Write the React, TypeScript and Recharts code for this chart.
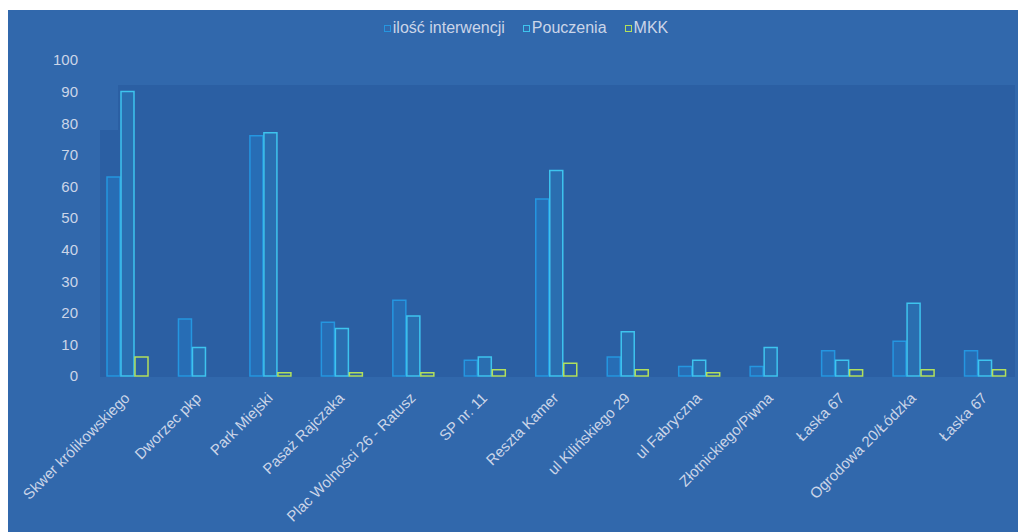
import React from 'react';
import { BarChart, Bar, XAxis, YAxis } from 'recharts';

const categories = [
  'Skwer królikowskiego',
  'Dworzec pkp',
  'Park Miejski',
  'Pasaż Rajczaka',
  'Plac Wolności 26 - Ratusz',
  'SP nr. 11',
  'Reszta Kamer',
  'ul Kilińskiego 29',
  'ul Fabryczna',
  'Złotnickiego/Piwna',
  'Łaska 67',
  'Ogrodowa 20/Łódzka',
  'Łaska 67 ',
];
const interwencje = [63, 18, 76, 17, 24, 5, 56, 6, 3, 3, 8, 11, 8];
const pouczenia = [90, 9, 77, 15, 19, 6, 65, 14, 5, 9, 5, 23, 5];
const mkk = [6, 0, 1, 1, 1, 2, 4, 2, 1, 0, 2, 2, 2];
const yTicks = [0, 10, 20, 30, 40, 50, 60, 70, 80, 90, 100];

const data = categories.map((name, i) => ({
  name,
  interwencje: interwencje[i],
  pouczenia: pouczenia[i],
  mkk: mkk[i],
}));

const TEXT = '#cbd5e8';
const FONT = '"Liberation Sans", Arial, sans-serif';

const legendItems = [
  { label: 'ilość interwencji', color: '#2596e0' },
  { label: 'Pouczenia', color: '#3ec4ee' },
  { label: 'MKK', color: '#b2e05c' },
];

const XTick = (props: any) => {
  const { x, y, payload } = props;
  return (
    <g transform={`translate(${x + 3},${y + 15})`}>
      <text textAnchor="end" fill={TEXT} fontSize={15} fontFamily={FONT} transform="rotate(-45)">
        {payload.value}
      </text>
    </g>
  );
};

export default function App() {
  return (
    <div style={{ position: 'relative', width: 1018, height: 522, marginTop: 2, background: '#3168ac' }}>
      <div style={{ position: 'absolute', left: 110, top: 75, width: 897, height: 292, background: '#2b5fa3' }} />
      <div style={{ position: 'absolute', left: 92, top: 120, width: 18, height: 247, background: '#2b5fa3' }} />
      <div
        style={{
          position: 'absolute',
          left: 0,
          top: 9,
          width: 1036,
          display: 'flex',
          justifyContent: 'center',
          gap: 18,
          fontFamily: FONT,
          fontSize: 16,
          color: TEXT,
        }}
      >
        {legendItems.map((it) => (
          <div key={it.label} style={{ display: 'flex', alignItems: 'center' }}>
            <span style={{ display: 'inline-block', width: 5, height: 5, border: `1px solid ${it.color}`, marginRight: 2 }} />
            <span>{it.label}</span>
          </div>
        ))}
      </div>
      <div style={{ position: 'absolute', left: 0, top: 0 }}>
        <BarChart
          width={1018}
          height={522}
          data={data}
          margin={{ top: 50, right: 5, bottom: 0, left: 0 }}
          barSize={13}
          barGap={1}
        >
          <XAxis
            dataKey="name"
            interval={0}
            height={156}
            axisLine={false}
            tickLine={false}
            tick={<XTick />}
          />
          <YAxis
            domain={[0, 100]}
            ticks={yTicks}
            width={84}
            axisLine={false}
            tickLine={false}
            tickMargin={8}
            tick={{ fill: TEXT, fontSize: 15, fontFamily: FONT }}
          />
          <Bar dataKey="interwencje" name="ilość interwencji" fill="#1f8ee0" fillOpacity={0.3} stroke="#2596e0" strokeWidth={1.5} isAnimationActive={false} />
          <Bar dataKey="pouczenia" name="Pouczenia" fill="#2aaae4" fillOpacity={0.2} stroke="#3ec4ee" strokeWidth={1.5} isAnimationActive={false} />
          <Bar dataKey="mkk" name="MKK" fill="none" stroke="#b2e05c" strokeWidth={1.5} isAnimationActive={false} />
        </BarChart>
      </div>
    </div>
  );
}
